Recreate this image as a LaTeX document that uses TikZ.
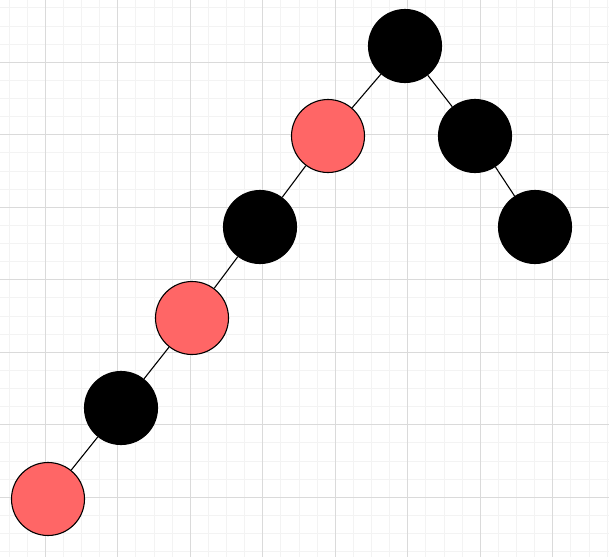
\documentclass[tikz,border=0pt]{standalone}
\definecolor{rbred}{HTML}{FF6666}
\definecolor{gridminor}{HTML}{F3F3F3}
\definecolor{gridmajor}{HTML}{DADADA}
\tikzset{
  rbnode/.style={circle, draw=black, line width=1.1pt, minimum size=73pt, inner sep=0pt},
  blacknode/.style={rbnode, fill=black},
  rednode/.style={rbnode, fill=rbred},
  link/.style={draw=black, line width=1.1pt},
  minorline/.style={draw=gridminor, line width=0.9pt},
  majorline/.style={draw=gridmajor, line width=0.9pt}
}
\begin{document}
\begin{tikzpicture}[x=1pt,y=-1pt]
\useasboundingbox (0,0) rectangle (609,557);
\fill[white] (0,0) rectangle (609,557);
\foreach \i in {0,...,33} \draw[minorline] ({9.05+18.125*\i},0) -- ++(0,557);
\foreach \i in {0,...,30} \draw[minorline] (0,{7.9+18.125*\i}) -- ++(609,0);
\foreach \i in {0,...,7} \draw[majorline] ({45.3+72.5*\i},0) -- ++(0,557);
\foreach \i in {0,...,6} \draw[majorline] (0,{62.3+72.5*\i}) -- ++(609,0);
\node[blacknode] (n1) at (405,46) {};
\node[rednode] (n2) at (328,136) {};
\node[blacknode] (n3) at (475,136) {};
\node[blacknode] (n4) at (535,227) {};
\node[blacknode] (n5) at (260,227) {};
\node[rednode] (n6) at (192,318) {};
\node[blacknode] (n7) at (121,408) {};
\node[rednode] (n8) at (48,499) {};
\draw[link] (n1) -- (n2);
\draw[link] (n1) -- (n3);
\draw[link] (n3) -- (n4);
\draw[link] (n2) -- (n5);
\draw[link] (n5) -- (n6);
\draw[link] (n6) -- (n7);
\draw[link] (n7) -- (n8);
\end{tikzpicture}
\end{document}
